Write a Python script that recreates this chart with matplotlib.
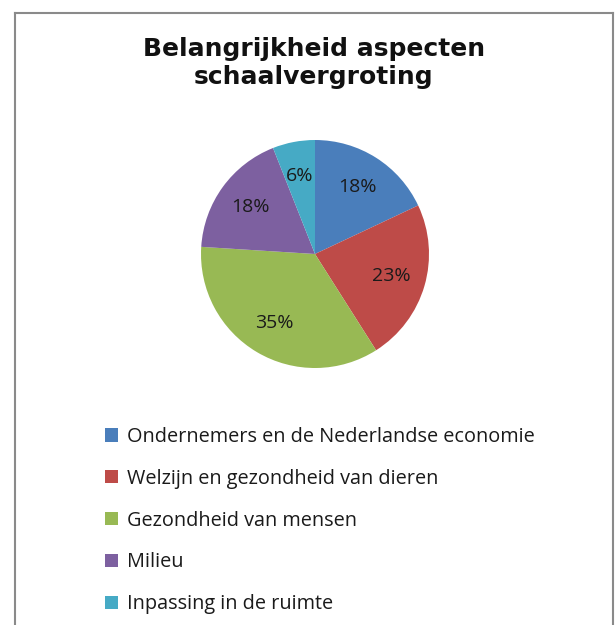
import matplotlib
matplotlib.use("Agg")
import matplotlib.pyplot as plt
from matplotlib.patches import Patch
from matplotlib.lines import Line2D
from matplotlib.font_manager import FontProperties

title = "Belangrijkheid aspecten\nschaalvergroting"
categories = ["Ondernemers en de Nederlandse economie",
              "Welzijn en gezondheid van dieren",
              "Gezondheid van mensen",
              "Milieu",
              "Inpassing in de ruimte"]
values = [18, 23, 35, 18, 6]
colors = ["#4A7EBB", "#BE4B48", "#98B954", "#7D60A0", "#46AAC5"]

plt.rcParams['font.family'] = ['Open Sans']

W, H = 615, 625
fig = plt.figure(figsize=(W/100, H/100), dpi=100)
fig.patch.set_facecolor("white")

# frame (left, top, right)
for xs, ys in [([15/W, 15/W], [0, 1-13/H]), ([15/W, 613/W], [1-13/H, 1-13/H]), ([613/W, 613/W], [1-13/H, 0])]:
    fig.add_artist(Line2D(xs, ys, color="#8a8a8a", lw=1.5, transform=fig.transFigure))

fig.text(314/W, 1-63/H, title, ha="center", va="center", fontsize=18, fontweight="bold",
         family=['DejaVu Sans'], linespacing=1.25, color="#111111")

cx, cy, r = 315, 254, 114
ax = fig.add_axes([(cx-r)/W, (H-cy-r)/H, 2*r/W, 2*r/H])
wedges, texts, autotexts = ax.pie(values, colors=colors, startangle=90, counterclock=False,
                                  autopct=lambda p: f"{p:.0f}%", pctdistance=0.7,
                                  wedgeprops=dict(linewidth=0))
for t in autotexts:
    t.set_fontproperties(FontProperties(family="Open Sans", size=14))
    t.set_color("#1a1a1a")
ax.set_aspect("equal")
ax.set_xlim(-1, 1); ax.set_ylim(-1, 1)
ax.axis("off")

handles = [Patch(facecolor=c, edgecolor="none") for c in colors]
leg = fig.legend(handles, categories, loc="upper left", bbox_to_anchor=(97/W, 1-419/H),
                 frameon=False, prop=FontProperties(family="Open Sans", size=14.3),
                 handlelength=0.65, handleheight=0.65,
                 handletextpad=0.45, labelspacing=1.1, borderaxespad=0)
for t in leg.get_texts():
    t.set_color("#1a1a1a")

fig.savefig("out.png", dpi=100, facecolor="white")
